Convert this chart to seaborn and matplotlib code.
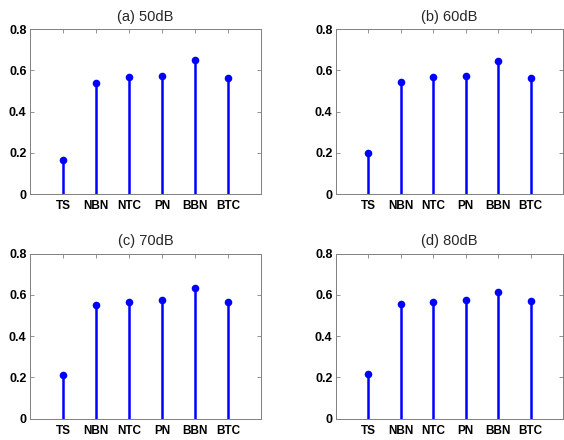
import matplotlib
matplotlib.use("Agg")
import matplotlib.pyplot as plt
import seaborn as sns
import numpy as np
import pandas as pd

categories = ["TS", "NBN", "NTC", "PN", "BBN", "BTC"]
titles = ["(a) 50dB", "(b) 60dB", "(c) 70dB", "(d) 80dB"]
vals_50 = [0.165, 0.540, 0.569, 0.574, 0.650, 0.563]
vals_60 = [0.197, 0.545, 0.566, 0.573, 0.646, 0.563]
vals_70 = [0.212, 0.551, 0.564, 0.575, 0.633, 0.567]
vals_80 = [0.215, 0.554, 0.567, 0.575, 0.612, 0.568]
yticks = [0, 0.2, 0.4, 0.6, 0.8]
ytick_labels = ["0", "0.2", "0.4", "0.6", "0.8"]

sns.set_style("white")
plt.rcParams['font.family'] = ['Liberation Sans', 'DejaVu Sans']

W, H = 564, 440
fig = plt.figure(figsize=(W / 100, H / 100), dpi=100)

# axes boxes in pixels: left, top, right, bottom
boxes = [(30, 29.3, 261, 194), (336, 29.3, 563, 194),
         (30, 253.5, 261, 418.5), (336, 253.5, 563, 418.5)]
series = [vals_50, vals_60, vals_70, vals_80]

blue = (0, 0, 1)
gray = (0.5, 0.5, 0.5)
for (l, t, r, b), title, vals in zip(boxes, titles, series):
    ax = fig.add_axes([l / W, 1 - b / H, (r - l) / W, (b - t) / H])
    df = pd.DataFrame({"pos": np.arange(1, len(categories) + 1), "val": vals})
    ax.vlines(df["pos"], 0, df["val"], color=blue, linewidth=1.8, zorder=2)
    sns.scatterplot(data=df, x="pos", y="val", ax=ax, color=blue, s=30,
                    edgecolor=blue, linewidth=0, zorder=3, legend=False)
    ax.set_xlim(0, 7)
    ax.set_ylim(0, 0.8)
    ax.set_xticks(df["pos"])
    ax.set_xticklabels(categories, fontsize=8.5, fontweight="bold")
    ax.set_yticks(yticks)
    ax.set_yticklabels(ytick_labels, fontsize=9, fontweight="bold")
    ax.set_xlabel("")
    ax.set_ylabel("")
    ax.tick_params(direction="in", length=3, width=0.6, color=gray,
                   top=True, right=True, left=True, bottom=True,
                   labelcolor="black")
    ax.tick_params(axis="x", pad=4.5)
    ax.tick_params(axis="y", pad=2.5)
    for s in ax.spines.values():
        s.set_visible(True)
        s.set_color(gray)
        s.set_linewidth(0.7)
    ax.set_title(title, fontsize=10.5, pad=6)

fig.savefig("out.png", dpi=100)
